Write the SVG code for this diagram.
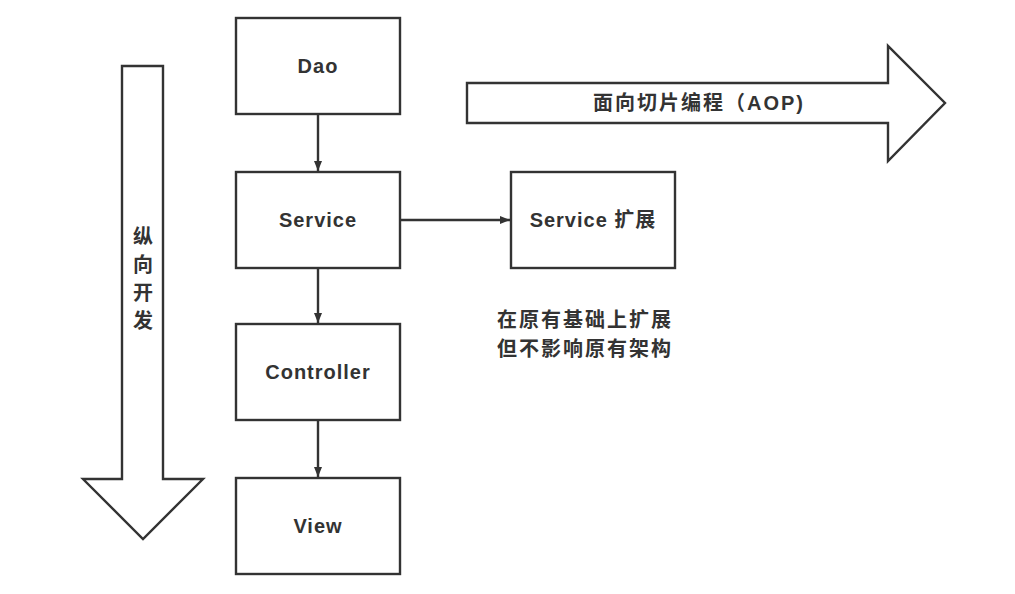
<svg xmlns="http://www.w3.org/2000/svg" width="1015" height="594" viewBox="0 0 1015 594">
<style>
.box{fill:#fff;stroke:#333;stroke-width:2.4}
.big{fill:#fff;stroke:#333;stroke-width:2.4;stroke-linejoin:miter}
.lbl{font-family:"Liberation Sans",Arial,"Noto Sans CJK SC",sans-serif;font-weight:bold;font-size:20px;fill:#333;letter-spacing:1px}
.cjk{font-family:"Liberation Sans","Noto Sans CJK SC",sans-serif;font-weight:bold;font-size:20px;fill:#333;letter-spacing:2px}
.con{fill:none;stroke:#333;stroke-width:2.4}
</style>
<defs>
<marker id="ah" markerWidth="12" markerHeight="10" refX="10" refY="4.5" orient="auto" markerUnits="userSpaceOnUse">
<path d="M0,0.5 L10,4.5 L0,8.5 Z" fill="#333"/>
</marker>
</defs>
<rect width="1015" height="594" fill="#fff"/>
<g id="vertical-arrow">
<path class="big" d="M122,66 L163,66 L163,479 L203,479 L143,539 L83,479 L122,479 Z"/>
<text class="cjk" x="143" text-anchor="middle" style="letter-spacing:0"><tspan x="143" y="244">纵</tspan><tspan x="143" y="272">向</tspan><tspan x="143" y="300">开</tspan><tspan x="143" y="328">发</tspan></text>
</g>
<g id="aop-arrow">
<path class="big" d="M467,83 L888,83 L888,46 L945,103 L888,161 L888,123 L467,123 Z"/>
<text class="cjk" x="593" y="110">面向切片编程（AOP)</text>
</g>
<g id="node-dao">
<rect class="box" x="236" y="18" width="164" height="96"/>
<text class="lbl" x="318" y="73" text-anchor="middle">Dao</text>
</g>
<g id="node-service">
<rect class="box" x="236" y="172" width="164" height="96"/>
<text class="lbl" x="318" y="227" text-anchor="middle">Service</text>
</g>
<g id="node-controller">
<rect class="box" x="236" y="324" width="164" height="96"/>
<text class="lbl" x="318" y="379" text-anchor="middle">Controller</text>
</g>
<g id="node-view">
<rect class="box" x="236" y="478" width="164" height="96"/>
<text class="lbl" x="318" y="533" text-anchor="middle">View</text>
</g>
<g id="node-service-ext">
<rect class="box" x="511" y="172" width="164" height="96"/>
<text class="lbl" x="593" y="227" text-anchor="middle">Service 扩展</text>
</g>
<g id="note">
<text class="cjk" x="497" y="327">在原有基础上扩展</text>
<text class="cjk" x="497" y="356">但不影响原有架构</text>
</g>
<g id="connectors">
<line class="con" x1="318" y1="115" x2="318" y2="171" marker-end="url(#ah)"/>
<line class="con" x1="318" y1="269" x2="318" y2="323" marker-end="url(#ah)"/>
<line class="con" x1="318" y1="421" x2="318" y2="477" marker-end="url(#ah)"/>
<line class="con" x1="401" y1="220" x2="510" y2="220" marker-end="url(#ah)"/>
</g>
</svg>
